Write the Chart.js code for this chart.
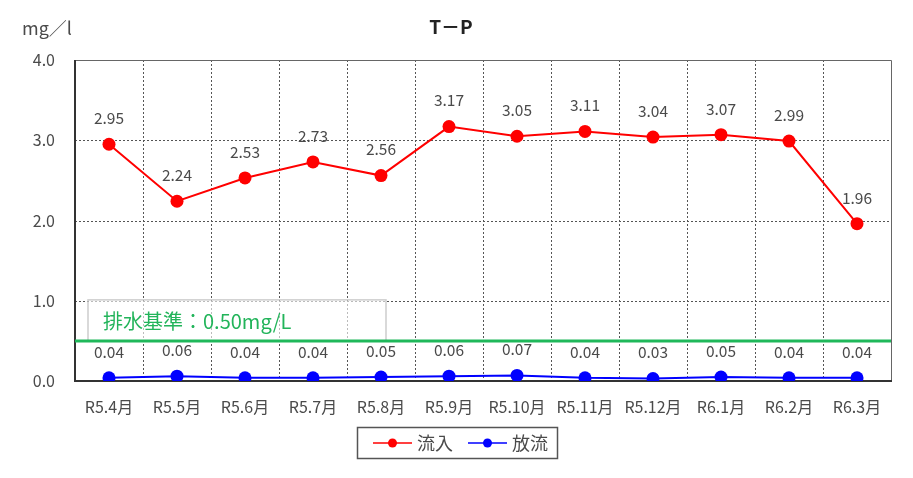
<!DOCTYPE html>
<html>
<head>
<meta charset="utf-8">
<script src="https://cdn.jsdelivr.net/npm/chart.js@4"></script>
<style>
  html, body { margin: 0; padding: 0; background: #fff; }
  #wrap { width: 913px; height: 478px; }
</style>
</head>
<body>
<div id="wrap"><canvas id="tp-chart" width="913" height="478"></canvas></div>
<script>
// T-P monthly values (mg/l)
const months = ['R5.4月','R5.5月','R5.6月','R5.7月','R5.8月','R5.9月','R5.10月','R5.11月','R5.12月','R6.1月','R6.2月','R6.3月'];
const inflow = [2.95, 2.24, 2.53, 2.73, 2.56, 3.17, 3.05, 3.11, 3.04, 3.07, 2.99, 1.96];
const outflow = [0.04, 0.06, 0.04, 0.04, 0.05, 0.06, 0.07, 0.04, 0.03, 0.05, 0.04, 0.04];
const yTicks = [0, 1, 2, 3, 4];
const standardValue = 0.5;
const standardLabel = '排水基準：0.50mg/L';

const FONT = '"Noto Sans CJK JP", "Noto Sans", sans-serif';
const TEXT = '#4a4a4a';

// ── Plugins ────────────────────────────────────────────────

const frameGrid = {
  id: 'frameGrid',
  beforeDatasetsDraw(chart) {
    const { ctx, chartArea: a, scales: { x, y } } = chart;
    ctx.save();
    ctx.strokeStyle = '#555';
    ctx.lineWidth = 1;
    ctx.setLineDash([2, 2]);
    yTicks.slice(1, -1).forEach(v => {
      const py = Math.round(y.getPixelForValue(v)) + 0.5;
      ctx.beginPath(); ctx.moveTo(a.left, py); ctx.lineTo(a.right, py); ctx.stroke();
    });
    for (let i = 1; i < months.length; i++) {
      const px = Math.round((x.getPixelForValue(i - 1) + x.getPixelForValue(i)) / 2) + 0.5;
      ctx.beginPath(); ctx.moveTo(px, a.top); ctx.lineTo(px, a.bottom); ctx.stroke();
    }
    ctx.setLineDash([]);
    ctx.strokeStyle = '#666';
    ctx.beginPath();
    ctx.moveTo(a.left, a.top + 0.5); ctx.lineTo(a.right + 0.5, a.top + 0.5); ctx.lineTo(a.right + 0.5, a.bottom);
    ctx.stroke();
    ctx.strokeStyle = '#333';
    ctx.lineWidth = 2;
    ctx.beginPath();
    ctx.moveTo(a.left, a.top); ctx.lineTo(a.left, a.bottom); ctx.lineTo(a.right + 1, a.bottom);
    ctx.stroke();

    // standard line + label box
    const sy = y.getPixelForValue(standardValue);
    ctx.strokeStyle = 'rgba(205,205,205,1)';
    ctx.lineWidth = 1.5;
    ctx.strokeRect(a.left + 13, sy - 41, 298, 41);
    ctx.fillStyle = 'rgba(255,255,255,0.6)';
    ctx.fillRect(a.left + 14, sy - 40, 296, 39);
    ctx.strokeStyle = '#1fb85a';
    ctx.lineWidth = 3;
    ctx.beginPath(); ctx.moveTo(a.left, sy); ctx.lineTo(a.right, sy); ctx.stroke();
    ctx.fillStyle = '#22b45a';
    ctx.font = '20px ' + FONT;
    ctx.textBaseline = 'middle';
    ctx.textAlign = 'left';
    ctx.fillText(standardLabel, a.left + 28, sy - 19);
    ctx.restore();
  },
  afterDraw(chart) {
    const { ctx } = chart;
    ctx.save();
    // point value labels
    ctx.fillStyle = TEXT;
    ctx.font = '15.5px ' + FONT;
    ctx.textAlign = 'center';
    ctx.textBaseline = 'middle';
    chart.data.datasets.forEach((ds, di) => {
      chart.getDatasetMeta(di).data.forEach((pt, i) => {
        ctx.fillText(ds.data[i].toFixed(2), pt.x, pt.y - 26);
      });
    });
    // title and unit
    ctx.font = 'bold 19px ' + FONT;
    ctx.fillStyle = '#222';
    ctx.fillText('T－P', 451, 27);
    ctx.font = '18px ' + FONT;
    ctx.fillStyle = TEXT;
    ctx.textAlign = 'left';
    ctx.fillText('mg／l', 22, 28);
    // legend box
    ctx.strokeStyle = '#555';
    ctx.lineWidth = 1.5;
    ctx.strokeRect(357.5, 427.5, 200, 31);
    let lx = 373;
    chart.data.datasets.forEach(ds => {
      ctx.strokeStyle = ds.borderColor;
      ctx.lineWidth = 1.5;
      ctx.beginPath(); ctx.moveTo(lx, 443); ctx.lineTo(lx + 39, 443); ctx.stroke();
      ctx.fillStyle = ds.borderColor;
      ctx.beginPath(); ctx.arc(lx + 19.5, 443, 4.5, 0, Math.PI * 2); ctx.fill();
      ctx.fillStyle = TEXT;
      ctx.font = '18px ' + FONT;
      ctx.fillText(ds.label, lx + 44, 443);
      lx += 95;
    });
    ctx.restore();
  }
};

// ── Chart ──────────────────────────────────────────────────

new Chart(document.getElementById('tp-chart').getContext('2d'), {
  type: 'line',
  data: {
    labels: months,
    datasets: [
      { label: '流入', data: inflow, borderColor: '#ff0000', backgroundColor: '#ff0000', borderWidth: 2, pointRadius: 6.5, pointBorderWidth: 0, tension: 0 },
      { label: '放流', data: outflow, borderColor: '#0000ff', backgroundColor: '#0000ff', borderWidth: 2, pointRadius: 6.5, pointBorderWidth: 0, tension: 0 },
    ]
  },
  options: {
    responsive: false,
    animation: false,
    devicePixelRatio: 1,
    layout: { padding: { left: 0, right: 22, top: 60, bottom: 0 } },
    plugins: { legend: { display: false }, title: { display: false }, tooltip: { enabled: false } },
    scales: {
      x: {
        offset: true,
        grid: { display: false },
        border: { display: false },
        ticks: { color: TEXT, font: { family: FONT, size: 16 }, padding: 8, maxRotation: 0, autoSkip: false },
        afterFit: s => { s.height = 97; }
      },
      y: {
        min: 0, max: 4,
        grid: { display: false, drawTicks: false },
        border: { display: false },
        afterBuildTicks: s => { s.ticks = yTicks.map(v => ({ value: v })); },
        ticks: { color: TEXT, font: { family: FONT, size: 16 }, padding: 20, callback: v => v.toFixed(1) },
        afterFit: s => { s.width = 75; }
      }
    }
  },
  plugins: [frameGrid]
});
</script>
</body>
</html>
